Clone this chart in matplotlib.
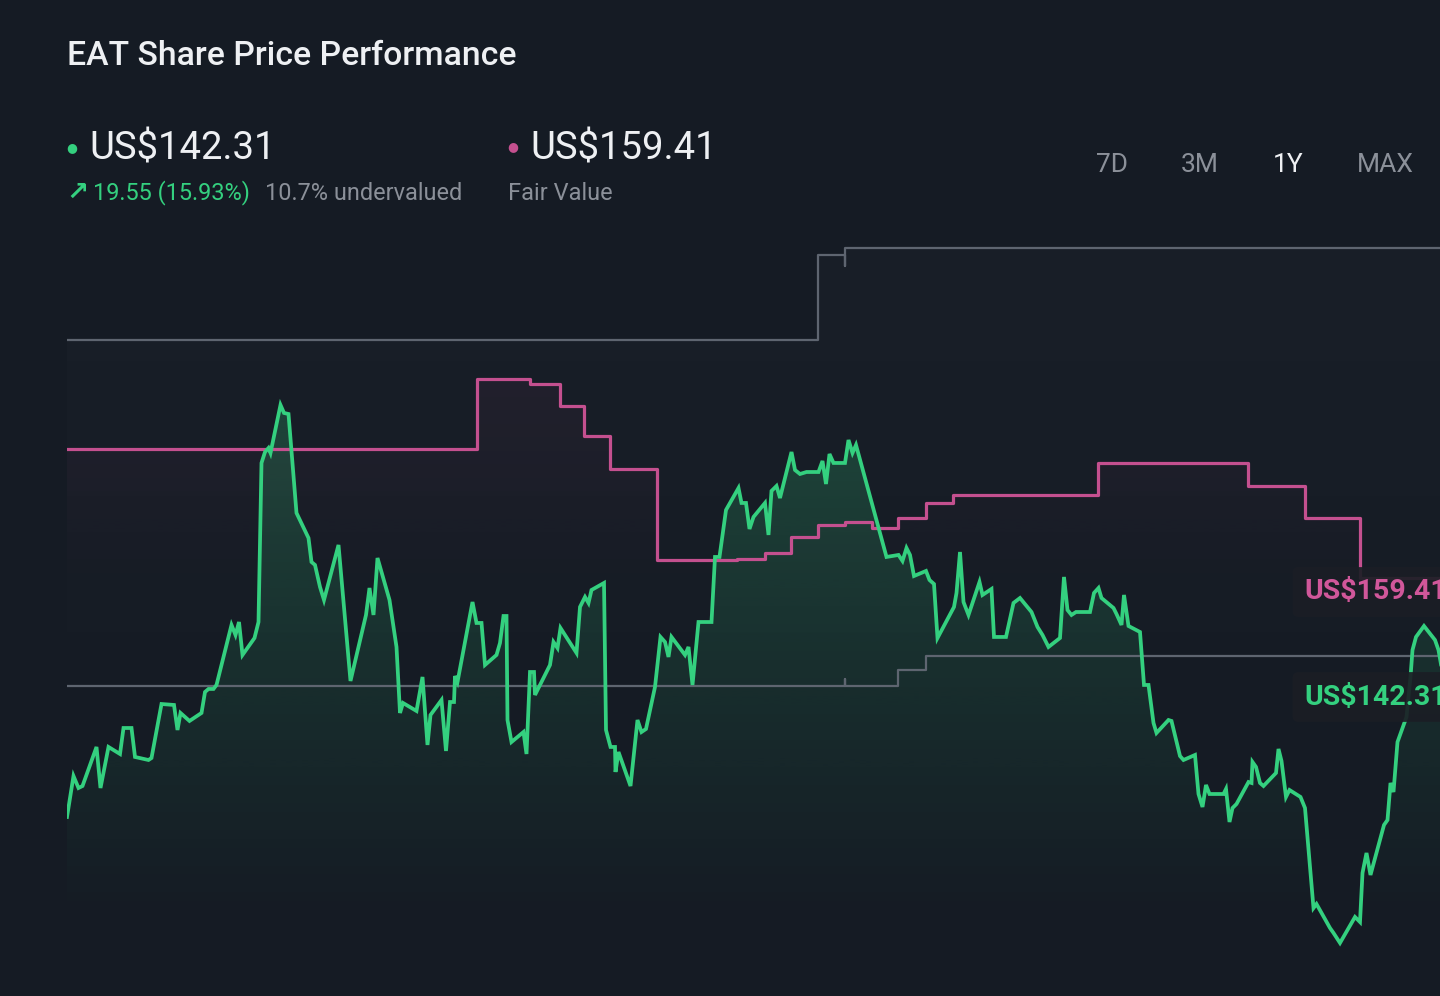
import numpy as np
import matplotlib
matplotlib.use('Agg')
import matplotlib.pyplot as plt
from matplotlib.patches import Polygon
from matplotlib.colors import to_rgb

plt.rcParams['font.family'] = ['Roboto', 'DejaVu Sans']

# share price, trading day index vs US$
price_day = [0, 1.3, 2.3, 3.1, 5.9, 6.7, 8.3, 10.6, 11.3, 12.9, 13.6, 16.3, 16.9, 18.9, 21.4, 22.1, 22.7, 24.5,
             26.9, 27.6, 28.3, 29.3, 29.9, 32.9, 33.7, 34.4, 35.1, 37.5, 38.3, 38.9, 39.6, 40.3, 40.7, 42.7, 43.4,
             44.3, 45.9, 48.3, 48.9, 49.6, 50.6, 51.4, 54.3, 56.7, 59.8, 60.5, 61.3, 62.1, 64.5, 65.9, 66.6, 67.2,
             69.9, 71.1, 72.1, 72.7, 74.9, 75.8, 76.6, 77.4, 77.6, 78.1, 81.1, 81.9, 82.9, 83.6, 85.9, 86.6, 87.3,
             87.9, 88.1, 88.9, 91.3, 91.9, 92.6, 93.4, 93.6, 96.6, 97.3, 98.1, 98.7, 101.9, 102.6, 103.6, 104.3,
             104.9, 107.4, 107.8, 108.7, 109.6, 109.7, 110.3, 112.7, 114.1, 114.9, 115.8, 117.6, 118.7, 119.6,
             120.3, 120.9, 123.6, 124.3, 125.1, 126.3, 128.9, 129.6, 130.5, 131.8, 134.3, 134.9, 135.8, 136.5,
             137.3, 139.6, 140.3, 140.9, 141.9, 142.6, 144.9, 145.6, 146.6, 147.9, 150.3, 151.1, 151.8, 152.5,
             153.3, 155.6, 156.3, 157.1, 157.8, 163.9, 166.3, 167.1, 167.9, 168.6, 169.4, 171.8, 172.5, 173.4,
             174.1, 177.4, 177.9, 178.6, 179.3, 180.3, 182.5, 183.1, 184.9, 185.4, 187.8, 189.3, 190.6, 192.9,
             194.1, 195.1, 196.3, 198.6, 199.4, 200.1, 200.9, 201.8, 204.6, 205.4, 206.3, 206.9, 209.3, 209.9,
             210.9, 211.4, 212.3, 214.6, 215.4, 216.3, 217.3, 217.9, 220.3, 220.9, 222.6, 223.3, 225.6, 226.3,
             227.1, 227.8, 228.5, 231.3, 231.8, 232.5, 233.1, 233.9, 236.3, 236.9, 237.1, 237.8, 238.6, 239.3,
             241.8, 242.3, 242.9, 243.8, 244.5, 246.7, 247.6, 249.3, 249.9, 252.6, 253.3, 254.6, 257.6, 258.6,
             259.1, 259.9, 260.7, 263.4, 264.1, 264.7, 265.3, 266.1, 267.9, 268.7, 269.1, 269.8, 271.4, 273.6,
             274.3, 275.0]
price = [122.88, 128.0, 126.5, 126.75, 131.63, 126.5, 131.63, 130.75, 134.0, 134.0, 130.38, 130.0, 130.25,
         137.0, 136.88, 133.75, 135.88, 134.88, 135.88, 138.5, 138.88, 138.88, 139.38, 146.88, 145.63, 147.25,
         143.13, 145.25, 147.25, 167.13, 168.5, 169.0, 168.38, 174.38, 173.38, 173.25, 160.88, 157.75, 154.75,
         154.38, 151.63, 150.0, 156.88, 139.88, 148.13, 151.5, 148.13, 155.25, 150.0, 144.13, 135.88, 137.13,
         136.13, 140.38, 131.88, 135.63, 137.5, 131.13, 137.25, 137.25, 140.5, 139.75, 149.75, 147.13, 147.13,
         141.88, 143.13, 144.63, 148.0, 148.0, 135.0, 132.25, 133.5, 130.75, 141.0, 141.0, 138.13, 141.88,
         144.75, 144.0, 146.5, 143.38, 149.13, 150.38, 149.63, 151.25, 152.13, 133.75, 131.63, 131.63, 128.5,
         131.0, 126.75, 135.0, 133.5, 133.88, 139.13, 145.38, 144.75, 142.88, 145.38, 143.13, 144.13, 139.38,
         147.25, 147.25, 155.38, 155.38, 161.25, 164.0, 162.13, 162.13, 158.88, 160.38, 162.13, 158.13, 163.63,
         164.25, 162.75, 168.5, 166.25, 165.75, 166.0, 166.0, 167.38, 164.5, 168.25, 167.13, 167.13, 170.0,
         168.38, 169.38, 155.38, 155.63, 154.88, 156.5, 155.63, 153.0, 153.63, 152.5, 152.0, 145.25, 149.13,
         150.88, 156.0, 149.75, 148.13, 152.25, 150.63, 151.38, 145.38, 145.38, 149.63, 150.25, 148.5, 146.63,
         145.63, 144.13, 145.25, 152.88, 148.75, 148.13, 148.5, 148.5, 150.88, 151.5, 150.25, 149.0, 148.25,
         146.88, 150.63, 146.75, 146.0, 139.38, 139.38, 134.63, 133.38, 135.0, 134.88, 130.5, 130.0, 130.63,
         125.75, 124.13, 126.88, 125.75, 125.75, 126.38, 122.25, 124.0, 124.5, 127.25, 127.13, 129.75, 129.13,
         127.13, 126.75, 128.38, 131.38, 129.88, 125.38, 126.25, 125.38, 124.0, 111.5, 112.0, 109.0, 108.38,
         107.13, 110.38, 109.75, 115.88, 118.38, 115.63, 121.88, 122.5, 127.13, 126.0, 132.25, 135.38, 140.38,
         143.75, 145.38, 146.75, 145.0, 143.75, 141.25]

# fair value estimate (steps)
fair_day = [0, 82, 92.6, 98.6, 103.4, 108.6, 118, 134, 139.6, 144.8, 150.2, 155.6, 161, 166.2, 171.8, 177.2,
            206.2, 236.2, 247.6, 258.6]
fair_value = [168.88, 177.63, 177.0, 174.25, 170.5, 166.38, 155.0, 155.13, 155.88, 157.88, 159.38, 159.75,
              159.0, 160.25, 162.13, 163.13, 167.13, 164.25, 160.25, 152.75]

# analyst targets (grey lines)
high_day = [0, 150.3, 150.3, 155.6, 155.6, 155.6, 275]
high_target = [182.5, 182.5, 193.13, 193.13, 191.75, 194.0, 194.0]
low_day = [0, 155.6, 155.6, 155.6, 166.3, 166.3, 171.8, 171.8, 275]
low_target = [139.25, 139.25, 140.13, 139.25, 139.25, 141.25, 141.25, 143.0, 143.0]

last_price = 'US$142.31'
fair_label = 'US$159.41'
change_text = '19.55 (15.93%)'
under_text = '10.7% undervalued'
ranges = ['7D', '3M', '1Y', 'MAX']

BG = '#151b24'
GREEN = '#34d07f'
PINK = '#c4508f'
GREY_LINE = '#5e6570'
GREY_TXT = '#8b9099'
WHITE = '#eef0f3'

X_END = 275
Y_LO, Y_HI = 105, 198.125


def step_xy(x, y, x_end):
    xs, ys = [], []
    for i in range(len(x)):
        nxt = x[i + 1] if i + 1 < len(x) else x_end
        xs += [x[i], nxt]
        ys += [y[i], y[i]]
    return xs, ys


def gradient_fill(ax, xs, ys, color, top_alpha, v_top, v_bottom, z):
    verts = [(xs[0], Y_LO)] + list(zip(xs, ys)) + [(xs[-1], Y_LO)]
    rgb = to_rgb(color)
    v = np.linspace(Y_LO, Y_HI, 400)
    img = np.zeros((400, 1, 4))
    img[:, :, :3] = rgb
    img[:, 0, 3] = top_alpha * np.clip((v - v_bottom) / (v_top - v_bottom), 0, 1)
    im = ax.imshow(img, extent=[0, X_END, Y_LO, Y_HI], origin='lower', aspect='auto', zorder=z,
                   interpolation='bilinear')
    poly = Polygon(verts, closed=True, fc='none', ec='none', transform=ax.transData)
    ax.add_patch(poly)
    im.set_clip_path(poly)


fig = plt.figure(figsize=(14.4, 9.96), dpi=100, facecolor=BG)
ax = fig.add_axes([67 / 1440, 36 / 996, 1373 / 1440, 745 / 996])
ax.set_facecolor(BG)

# faint fills
gradient_fill(ax, high_day, high_target, '#ffffff', 0.018, 190, 112, 1)
fx, fy = step_xy(fair_day, fair_value, X_END)
gradient_fill(ax, fx, fy, PINK, 0.06, 176, 150, 2)
gradient_fill(ax, price_day, price, GREEN, 0.21, 170, 110, 3)

ax.plot(high_day, high_target, color=GREY_LINE, lw=1.6, zorder=4)
ax.plot(low_day, low_target, color=GREY_LINE, lw=1.6, zorder=4)
ax.plot(fx, fy, color=PINK, lw=2.3, zorder=5)
ax.plot(price_day, price, color=GREEN, lw=2.7, zorder=6, solid_joinstyle='miter')

ax.set_xlim(0, 274.6)
ax.set_ylim(Y_LO, Y_HI)
ax.axis('off')


def px(x, y):
    return x / 1440, 1 - y / 996


# header
fig.text(*px(67, 56), 'EAT Share Price Performance', color=WHITE, fontsize=24.3, fontweight='medium', va='center')
fig.text(*px(72, 148), '\u25cf', color=GREEN, fontsize=9, va='center', ha='center', family='DejaVu Sans')
fig.text(*px(89, 149), last_price, color=WHITE, fontsize=27.5, va='center')
fig.text(*px(66, 193), '\u2197', color=GREEN, fontsize=19, fontweight='bold', va='center', family='DejaVu Sans')
fig.text(*px(93, 193), change_text, color=GREEN, fontsize=16.9, va='center')
fig.text(*px(265, 193), under_text, color=GREY_TXT, fontsize=16.9, va='center')
fig.text(*px(513, 147), '\u25cf', color=PINK, fontsize=9, va='center', ha='center', family='DejaVu Sans')
fig.text(*px(530, 149), fair_label, color=WHITE, fontsize=27.5, va='center')
fig.text(*px(508, 193), 'Fair Value', color=GREY_TXT, fontsize=16.9, va='center')

for lab, cx in zip(ranges, [1112, 1200, 1288, 1385]):
    fig.text(*px(cx, 165), lab, color=WHITE if lab == '1Y' else GREY_TXT, fontsize=19, ha='center', va='center')

# end labels
box = dict(boxstyle='round,pad=0.4,rounding_size=0.2', fc='#1b1e25', ec='none', alpha=0.92)
fig.text(*px(1304, 592), fair_label, color='#d0579a', fontsize=20.5, fontweight='bold', va='center', bbox=box,
         zorder=10)
fig.text(*px(1304, 697), last_price, color=GREEN, fontsize=20.5, fontweight='bold', va='center', bbox=box,
         zorder=10)

fig.savefig('out.png', dpi=100, facecolor=BG)
